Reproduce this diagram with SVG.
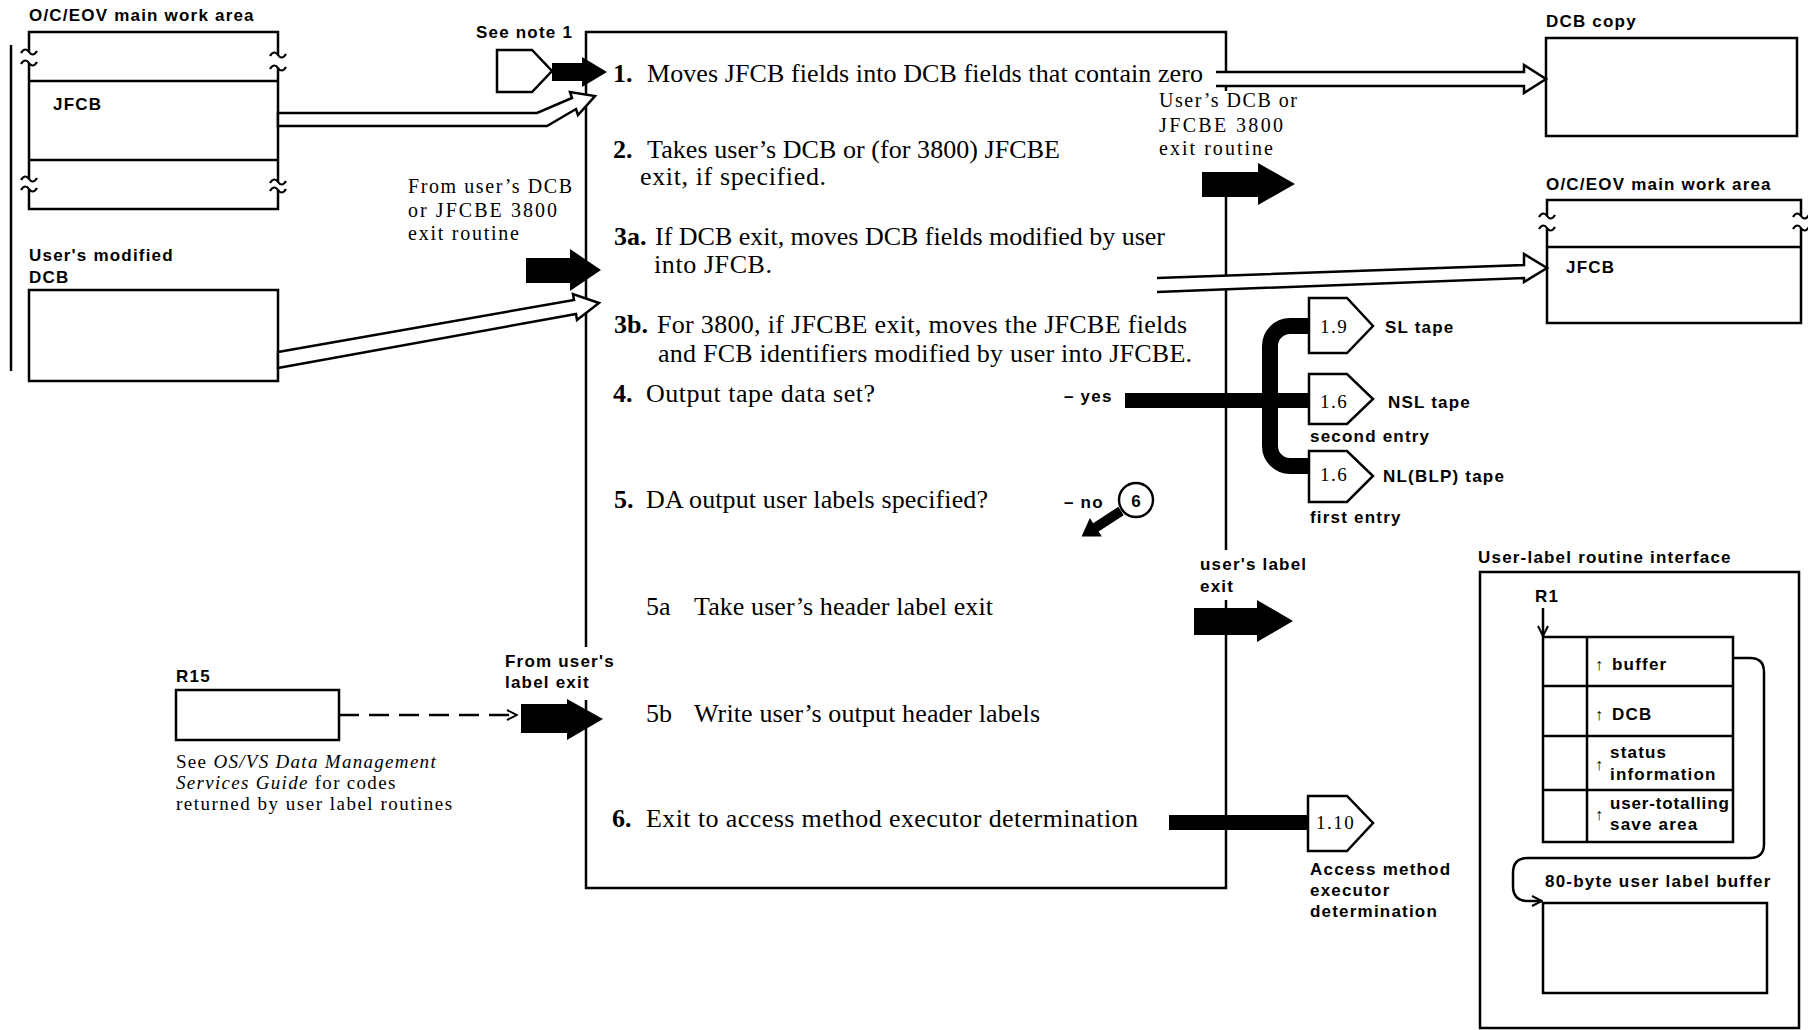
<svg xmlns="http://www.w3.org/2000/svg" xmlns:xlink="http://www.w3.org/1999/xlink" width="1808" height="1030" viewBox="0 0 1808 1030">
<style>
.ln{fill:none;stroke:#000;stroke-width:2.5}
.bx{fill:#fff;stroke:#000;stroke-width:2.5}
.blk{fill:#000;stroke:none}
.hol{fill:#fff;stroke:#000;stroke-width:2.5;stroke-linejoin:miter}
.b{font-family:"Liberation Sans",Arial,sans-serif;font-weight:bold;font-size:17px;letter-spacing:1.2px;fill:#000}
.t{font-family:"Liberation Serif","Times New Roman",serif;font-size:26px;fill:#000}
.n{font-family:"Liberation Serif","Times New Roman",serif;font-size:26px;font-weight:bold;fill:#000}
.sr{font-family:"Liberation Serif","Times New Roman",serif;font-size:20px;fill:#000}
.cn{font-family:"Liberation Serif","Times New Roman",serif;font-size:19px;letter-spacing:1.5px;fill:#000}
.up{font-family:"Liberation Sans",Arial,sans-serif;font-size:16px;font-weight:bold;fill:#000}
</style>
<defs>
<path id="tl" d="M-8,1 C-5,-4 -2,-3 0,0 S5,4 8,-1" fill="none" stroke="#000" stroke-width="2.2"/>
<marker id="openhead" viewBox="0 0 12 12" refX="11" refY="6" markerWidth="12" markerHeight="12" markerUnits="userSpaceOnUse" orient="auto">
<path d="M1,1 L11,6 L1,11" fill="none" stroke="#000" stroke-width="2"/>
</marker>
</defs>
<rect width="1808" height="1030" fill="#fff"/>

<g id="main-area-left">
<line class="ln" x1="11" y1="45" x2="11" y2="371"/>
<text class="b" x="29" y="21">O/C/EOV main work area</text>
<path class="ln" d="M29,52 V32 H278 V55 M278,68 V182 M278,190 V209 H29 V189 M29,179 V63 M29,81 H278 M29,160 H278"/>
<use xlink:href="#tl" x="29" y="52"/>
<use xlink:href="#tl" x="29" y="63"/>
<use xlink:href="#tl" x="278" y="55"/>
<use xlink:href="#tl" x="278" y="68"/>
<use xlink:href="#tl" x="29" y="179"/>
<use xlink:href="#tl" x="29" y="189"/>
<use xlink:href="#tl" x="278" y="182"/>
<use xlink:href="#tl" x="278" y="190"/>
<text class="b" x="53" y="110">JFCB</text>
</g>

<g id="users-modified-dcb">
<text class="b" x="29" y="261">User's modified</text>
<text class="b" x="29" y="283">DCB</text>
<rect class="bx" x="29" y="290" width="249" height="91"/>
</g>

<g id="note1-connector">
<text class="b" x="476" y="38">See note 1</text>
<polygon class="bx" points="497,50 532,50 552,71 532,92 497,92"/>
</g>

<g id="process-box">
<path class="ln" d="M1226,72 V32 H586 V647 M586,700 V888 H1226 V600 M1226,550 V289 M1226,276 V197 M1226,86 V91"/>
<text class="n" x="613" y="82">1.</text>
<text class="t" x="647" y="82" textLength="556" lengthAdjust="spacing">Moves JFCB fields into DCB fields that contain zero</text>
<text class="n" x="613" y="158">2.</text>
<text class="t" x="647" y="158" textLength="413" lengthAdjust="spacing">Takes user’s DCB or (for 3800) JFCBE</text>
<text class="t" x="640" y="185" textLength="186" lengthAdjust="spacing">exit, if specified.</text>
<text class="n" x="614" y="245">3a.</text>
<text class="t" x="655" y="245" textLength="510" lengthAdjust="spacing">If DCB exit, moves DCB fields modified by user</text>
<text class="t" x="654" y="273" textLength="118" lengthAdjust="spacing">into JFCB.</text>
<text class="n" x="614" y="333">3b.</text>
<text class="t" x="657" y="333" textLength="530" lengthAdjust="spacing">For 3800, if JFCBE exit, moves the JFCBE fields</text>
<text class="t" x="658" y="362" textLength="534" lengthAdjust="spacing">and FCB identifiers modified by user into JFCBE.</text>
<text class="n" x="613" y="402">4.</text>
<text class="t" x="646" y="402" textLength="229" lengthAdjust="spacing">Output tape data set?</text>
<text class="b" x="1064" y="402">– yes</text>
<text class="n" x="614" y="508">5.</text>
<text class="t" x="646" y="508" textLength="342" lengthAdjust="spacing">DA output user labels specified?</text>
<text class="b" x="1064" y="508">– no</text>
<text class="t" x="646" y="615">5a</text>
<text class="t" x="694" y="615" textLength="299" lengthAdjust="spacing">Take user’s header label exit</text>
<text class="t" x="646" y="722">5b</text>
<text class="t" x="694" y="722" textLength="346" lengthAdjust="spacing">Write user’s output header labels</text>
<text class="n" x="612" y="827">6.</text>
<text class="t" x="646" y="827" textLength="492" lengthAdjust="spacing">Exit to access method executor determination</text>
</g>

<g id="dcb-copy">
<text class="b" x="1546" y="27">DCB copy</text>
<rect class="bx" x="1546" y="38" width="251" height="98"/>
</g>

<g id="main-area-right">
<text class="b" x="1546" y="190">O/C/EOV main work area</text>
<path class="ln" d="M1547,216 V200 H1801 V216 M1801,228 V323 H1547 V228 M1547,247 H1801"/>
<use xlink:href="#tl" x="1547" y="216"/>
<use xlink:href="#tl" x="1547" y="228"/>
<use xlink:href="#tl" x="1801" y="216"/>
<use xlink:href="#tl" x="1801" y="228"/>
<text class="b" x="1566" y="273">JFCB</text>
</g>

<g id="conn-1-9">
<polygon class="bx" points="1309,298 1347,298 1373,326 1347,353 1309,353"/>
<text class="cn" x="1320" y="333">1.9</text>
<text class="b" x="1385" y="333">SL tape</text>
</g>
<g id="conn-1-6-nsl">
<polygon class="bx" points="1309,374 1347,374 1373,399 1347,424 1309,424"/>
<text class="cn" x="1320" y="408">1.6</text>
<text class="b" x="1388" y="408">NSL tape</text>
<text class="b" x="1310" y="442">second entry</text>
</g>
<g id="conn-1-6-nl">
<polygon class="bx" points="1309,451 1347,451 1373,476 1347,502 1309,502"/>
<text class="cn" x="1320" y="481">1.6</text>
<text class="b" x="1383" y="482">NL(BLP) tape</text>
<text class="b" x="1310" y="523">first entry</text>
</g>
<g id="conn-1-10">
<polygon class="bx" points="1308,796 1347,796 1373,823 1347,851 1308,851"/>
<text class="cn" x="1316" y="829">1.10</text>
<text class="b" x="1310" y="875">Access method</text>
<text class="b" x="1310" y="896">executor</text>
<text class="b" x="1310" y="917">determination</text>
</g>

<g id="circle-6">
<circle class="bx" cx="1136" cy="500" r="17"/>
<text class="b" x="1136" y="507" text-anchor="middle" style="letter-spacing:0">6</text>
</g>

<g id="r15">
<text class="b" x="176" y="682">R15</text>
<rect class="bx" x="176" y="690" width="163" height="50"/>
<text class="sr" x="176" y="768" style="font-size:19px;letter-spacing:1.3px">See <tspan font-style="italic">OS/VS Data Management</tspan></text>
<text class="sr" x="176" y="789" style="font-size:19px;letter-spacing:1.3px"><tspan font-style="italic">Services Guide</tspan> for codes</text>
<text class="sr" x="176" y="810" style="font-size:19px;letter-spacing:1.5px">returned by user label routines</text>
</g>

<g id="user-label-interface">
<text class="b" x="1478" y="563">User-label routine interface</text>
<rect class="ln" x="1480" y="572" width="319" height="456"/>
<text class="b" x="1535" y="602">R1</text>
<line class="ln" x1="1543" y1="608" x2="1543" y2="636" marker-end="url(#openhead)"/>
<rect class="ln" x="1543" y="637" width="190" height="205"/>
<path class="ln" d="M1587,637 V842 M1543,686 H1733 M1543,736 H1733 M1543,790 H1733"/>
<text class="up" x="1595" y="670">↑</text>
<text class="b" x="1612" y="670">buffer</text>
<text class="up" x="1595" y="720">↑</text>
<text class="b" x="1612" y="720">DCB</text>
<text class="up" x="1595" y="770">↑</text>
<text class="b" x="1610" y="758">status</text>
<text class="b" x="1610" y="780">information</text>
<text class="up" x="1595" y="820">↑</text>
<text class="b" x="1610" y="809" textLength="120" lengthAdjust="spacing">user-totalling</text>
<text class="b" x="1610" y="830">save area</text>
<text class="b" x="1545" y="887">80-byte user label buffer</text>
<rect class="ln" x="1543" y="903" width="224" height="90"/>
</g>

<g id="connectors">
<polygon class="hol" points="278,113 537,113 572,98 570,92 595,96 578,115 576,109 547,126 278,126"/>
<polygon class="hol" points="278,352 574,300 573,294 599,303 577,320 576,314 278,368"/>
<path class="hol" d="M1216,72 H1524 V65 L1546,79 L1524,93 V86 H1216"/>
<path class="hol" d="M1157,278 L1524,265 L1524,254 L1547,268 L1524,282 L1524,278 L1157,292"/>
<polygon class="blk" points="552,63 582,63 582,57 607,72 582,87 582,81 552,81"/>
<polygon class="blk" points="526,258 570,258 570,249 601,270 570,291 570,283 526,283"/>
<polygon class="blk" points="1202,172 1258,172 1258,163 1295,184 1258,205 1258,197 1202,197"/>
<polygon class="blk" points="1194,608 1257,608 1257,600 1293,621 1257,642 1257,635 1194,635"/>
<polygon class="blk" points="521,704 567,704 567,699 603,719 567,740 567,733 521,733"/>
<polygon class="blk" transform="translate(1121,511) rotate(147)" points="0,-5 30,-5 30,-11 47,0 30,11 30,5 0,5"/>
<rect class="blk" x="1125" y="393" width="185" height="15"/>
<path d="M1310,326 H1290 A20,20 0 0 0 1270,346 V446 A20,20 0 0 0 1290,466 H1310" fill="none" stroke="#000" stroke-width="16"/>
<rect class="blk" x="1169" y="815" width="140" height="15"/>
<line x1="339" y1="715" x2="517" y2="715" stroke="#000" stroke-width="2.5" stroke-dasharray="20,10" marker-end="url(#openhead)"/>
<path class="ln" d="M1733,658 H1750 Q1764,658 1764,672 V844 Q1764,858 1750,858 H1528 Q1513,858 1513,873 V886 Q1513,901 1528,901 H1542" marker-end="url(#openhead)"/>
<text class="sr" x="408" y="193" textLength="164" lengthAdjust="spacing">From user’s DCB</text>
<text class="sr" x="408" y="217" textLength="149" lengthAdjust="spacing">or JFCBE 3800</text>
<text class="sr" x="408" y="240" textLength="111" lengthAdjust="spacing">exit routine</text>
<text class="sr" x="1159" y="107" textLength="138" lengthAdjust="spacing">User’s DCB or</text>
<text class="sr" x="1159" y="132" textLength="124" lengthAdjust="spacing">JFCBE 3800</text>
<text class="sr" x="1159" y="155" textLength="114" lengthAdjust="spacing">exit routine</text>
<text class="b" x="1200" y="570">user's label</text>
<text class="b" x="1200" y="592">exit</text>
<text class="b" x="505" y="667">From user's</text>
<text class="b" x="505" y="688">label exit</text>
</g>
</svg>
